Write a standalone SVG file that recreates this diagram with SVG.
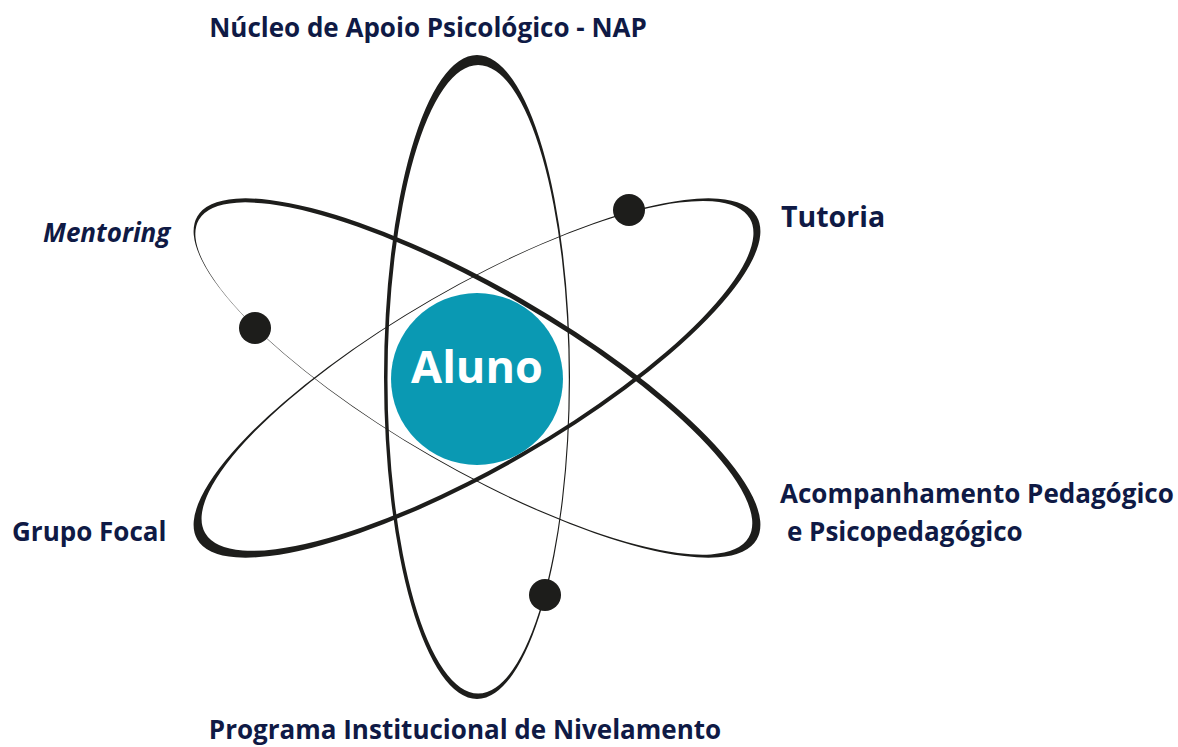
<svg xmlns="http://www.w3.org/2000/svg" width="1178" height="747" viewBox="0 0 1178 747">
  <style>
    .orbit { fill: #1d1d1b; fill-rule: evenodd; }
    .dot { fill: #1d1d1b; }
    .lbl { font-family: "Open Sans", "Noto Sans", "Liberation Sans", sans-serif; font-weight: 700; font-size: 26px; fill: #0f1a45; }
    .big { font-size: 28.5px; }
    .center { font-family: "Open Sans", "Noto Sans", "Liberation Sans", sans-serif; font-weight: 700; font-size: 45px; fill: #ffffff; text-anchor: middle; }
  </style>
  <rect width="1178" height="747" fill="#ffffff"/>
  <g id="orbits">
    <path class="orbit" transform="translate(477,377) rotate(90)" d="M -322 0 A 322 93 0 1 0 322 0 A 322 93 0 1 0 -322 0 Z M -312 -1.15 A 314.25 90.65 0 1 0 316.5 -1.15 A 314.25 90.65 0 1 0 -312 -1.15 Z"/>
    <path class="orbit" transform="translate(477,378) rotate(30)" d="M -323 0 A 323 91 0 1 0 323 0 A 323 91 0 1 0 -323 0 Z M -320 2.05 A 317.5 88.15 0 1 0 315 2.05 A 317.5 88.15 0 1 0 -320 2.05 Z"/>
    <path class="orbit" transform="translate(477,378) rotate(-30)" d="M -323 0 A 323 91 0 1 0 323 0 A 323 91 0 1 0 -323 0 Z M -313 -1.6 A 314.5 88.6 0 1 0 316 -1.6 A 314.5 88.6 0 1 0 -313 -1.6 Z"/>
  </g>
  <g id="dots">
    <circle class="dot" cx="629" cy="210" r="16"/>
    <circle class="dot" cx="255" cy="328" r="16"/>
    <circle class="dot" cx="545" cy="595" r="16"/>
  </g>
  <g id="aluno">
    <circle cx="477" cy="379" r="86" fill="#0a99b3"/>
    <text class="center" x="477" y="383">Aluno</text>
  </g>
  <g id="nap">
    <text class="lbl" x="428" y="37" text-anchor="middle">Núcleo de Apoio Psicológico - NAP</text>
  </g>
  <g id="tutoria">
    <text class="lbl big" x="781" y="227">Tutoria</text>
  </g>
  <g id="mentoring">
    <text class="lbl" x="43" y="242" font-style="italic">Mentoring</text>
  </g>
  <g id="grupo-focal">
    <text class="lbl" x="12" y="541">Grupo Focal</text>
  </g>
  <g id="acompanhamento">
    <text class="lbl" x="780" y="503">Acompanhamento Pedagógico</text>
    <text class="lbl" x="787" y="541">e Psicopedagógico</text>
  </g>
  <g id="nivelamento">
    <text class="lbl" x="465" y="739" text-anchor="middle">Programa Institucional de Nivelamento</text>
  </g>
</svg>
